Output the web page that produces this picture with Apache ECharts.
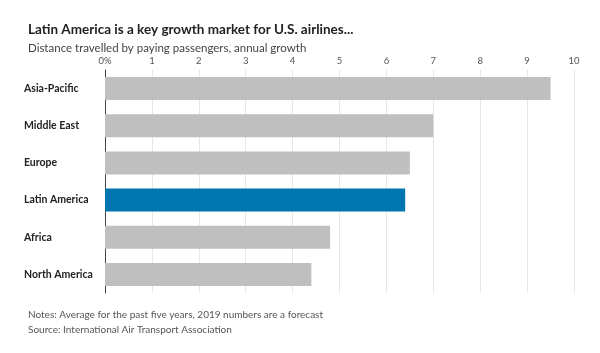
<!DOCTYPE html>
<html lang="en">
<head>
    <meta charset="UTF-8">
    <title>Latin America growth</title>
    <script src="https://cdn.jsdelivr.net/npm/echarts@6/dist/echarts.min.js"></script>
    <style>
        body { margin: 0; background: #fff; }
    </style>
</head>
<body>
<div id="chart" style="width:600px;height:353px;"></div>
<script>
    var regions = ['Asia-Pacific', 'Middle East', 'Europe', 'Latin America', 'Africa', 'North America'];
    var growth = [9.5, 7.0, 6.5, 6.4, 4.8, 4.4];
    var highlight = 'Latin America';
    var tickLabels = ['0%', '1', '2', '3', '4', '5', '6', '7', '8', '9', '10'];

    var barData = [];
    for (var i = 0; i < regions.length; i++) {
        barData.push({
            value: growth[i],
            itemStyle: { color: regions[i] === highlight ? '#0075b0' : '#bfbfbf' }
        });
    }

    var myChart = echarts.init(document.getElementById('chart'));
    var option = {
        animation: false,
        textStyle: { fontFamily: 'Lato' },
        title: [
            {
                text: 'Latin America is a key growth market for U.S. airlines...',
                left: 23, top: 18,
                textStyle: { fontSize: 13.5, fontWeight: 'bold', color: '#222' }
            },
            {
                text: 'Distance travelled by paying passengers, annual growth',
                left: 23, top: 37,
                textStyle: { fontSize: 11.5, fontWeight: 'normal', color: '#444' }
            },
            {
                text: 'Notes: Average for the past five years, 2019 numbers are a forecast\nSource: International Air Transport Association',
                left: 23, top: 302,
                textStyle: { fontSize: 10, fontWeight: 'normal', color: '#555', lineHeight: 15 }
            }
        ],
        grid: { left: 105, right: 26, top: 70, bottom: 60 },
        xAxis: {
            type: 'value',
            position: 'top',
            min: 0, max: 10, interval: 1,
            axisLine: { show: false },
            axisTick: { show: false },
            axisLabel: {
                color: '#555', fontSize: 9.5, margin: 4,
                formatter: function (v) { return tickLabels[v]; }
            },
            splitLine: { lineStyle: { color: '#e6e6e6' } }
        },
        yAxis: {
            type: 'category',
            inverse: true,
            data: regions,
            axisLine: { lineStyle: { color: '#444' } },
            axisTick: { show: false },
            axisLabel: {
                align: 'left', margin: 81,
                color: '#222', fontSize: 10.5, fontWeight: 'bold'
            }
        },
        series: [
            {
                type: 'bar',
                data: barData,
                barCategoryGap: '38%'
            }
        ]
    };
    myChart.setOption(option);
</script>
</body>
</html>
